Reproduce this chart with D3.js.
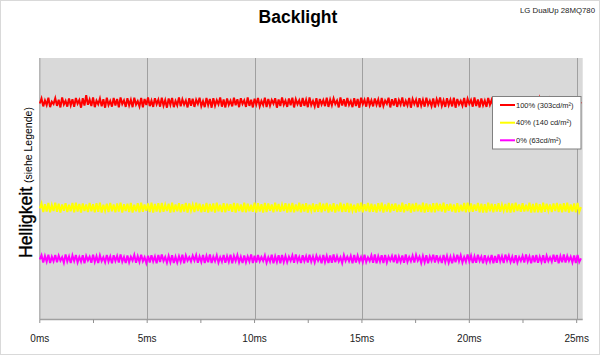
<!DOCTYPE html>
<html>
<head>
<meta charset="utf-8">
<script src="https://cdn.jsdelivr.net/npm/d3@7"></script>
<style>
  html, body { margin: 0; padding: 0; background: #fff; }
  svg { display: block; font-family: "Liberation Sans", Arial, sans-serif; }
</style>
</head>
<body>
<svg id="chart" width="600" height="356"></svg>
<script>
// ---- data ----
const chartTitle = "Backlight";
const chartSubtitle = "LG DualUp 28MQ780";
const yLabelMain = "Helligkeit";
const yLabelSub = "(siehe Legende)";
const xTickValues = [0, 5, 10, 15, 20, 25];
const xTickLabels = ["0ms", "5ms", "10ms", "15ms", "20ms", "25ms"];
const xMinorTicks = [0, 2.5, 5, 7.5, 10, 12.5, 15, 17.5, 20, 22.5, 25];
const sampleStepMs = 0.08;
const seriesNames = ["100% (303cd/m\u00B2)", "40% (140 cd/m\u00B2)", "0% (63cd/m\u00B2)"];
const seriesColors = ["#ff0000", "#ffff00", "#ff00ff"];

// relative brightness (0..1000), one sample every 0.08 ms
const brightness100 = [
826,845,815,838,820,848,812,833,824,846,
817,840,811,849,822,836,814,845,819,842,
813,847,825,839,810,846,818,858,821,841,
816,849,812,837,823,845,815,842,810,848,
820,836,814,847,818,843,811,849,824,838,
813,846,819,840,812,848,822,835,815,847,
811,843,820,849,816,837,813,846,823,841,
814,848,818,839,810,845,821,847,812,836,
819,849,815,842,822,838,811,846,817,844,
813,840,824,848,816,835,812,847,820,843,
810,846,818,839,823,849,814,841,811,845,
821,837,815,848,819,842,812,846,824,838,
813,849,817,840,811,844,822,847,815,836,
820,848,812,843,818,839,825,846,810,841,
816,849,821,837,813,845,819,848,811,842,
823,838,814,847,817,840,812,849,820,836,
815,846,810,843,822,839,816,848,813,841,
819,845,824,837,811,849,818,842,814,847,
821,836,812,846,816,843,810,848,823,840,
814,849,819,838,815,845,821,841,812,847,
817,837,825,848,811,842,818,846,813,839,
822,849,815,836,819,847,810,843,824,841,
812,846,818,840,814,848,821,837,816,845,
811,842,823,849,817,838,813,846,820,840,
815,848,810,843,822,836,818,847,812,844,
824,839,814,849,816,841,811,845,819,837,
813,847,821,840,815,848,817,836,823,846,
810,843,818,849,812,838,820,845,814,841,
822,837,816,847,811,844,819,848,813,839,
817,846,824,840,815,849,812,842,821,836,
814,848,819,843,810,845,823,838,816,847,
812,841,820,846,818,832
];

const brightness40 = [
425,444,411,441,413,446,410,438,415,447,
412,443,409,440,416,445,411,439,414,446,
410,447,413,442,409,444,415,440,411,446,
414,441,410,445,412,447,409,439,416,443,
411,446,414,440,410,444,413,447,409,441,
415,443,411,446,409,439,414,445,410,447,
412,440,416,444,411,447,409,442,413,445,
410,446,412,439,415,443,409,447,411,440,
414,445,410,441,413,446,409,444,416,439,
411,447,415,443,410,440,412,446,409,442,
413,444,409,447,414,439,411,445,410,443,
416,441,412,446,409,444,415,440,411,447,
410,443,414,439,412,447,409,445,413,441,
409,446,411,444,416,440,410,447,414,442,
412,439,415,445,409,443,411,446,410,440,
414,447,410,442,413,445,409,439,416,444,
411,441,412,447,410,443,415,446,409,440,
413,445,409,440,414,447,411,442,412,446,
410,443,416,439,409,444,413,447,410,441,
415,446,411,443,412,440,409,445,414,447,
409,440,413,446,410,442,416,444,411,439,
412,447,410,441,415,445,409,443,413,446,
414,439,411,447,409,444,412,440,410,445,
410,446,415,442,413,447,409,441,416,443,
413,440,409,445,411,439,414,446,410,447,
411,444,412,440,416,446,410,443,409,441,
409,447,414,443,410,441,413,445,412,439,
416,442,410,446,409,444,411,447,415,440,
412,445,413,439,414,447,409,442,410,446,
410,441,409,447,412,443,416,440,411,444,
415,446,411,442,410,445,413,447,409,440,
413,444,410,446,412,430
];

const brightness0 = [
230,246,218,243,221,248,216,240,223,247,
219,244,225,238,217,249,222,241,216,245,
224,247,218,239,221,246,215,243,226,240,
217,248,220,242,216,245,223,238,219,247,
222,241,215,246,224,243,218,249,221,239,
216,245,219,240,225,247,217,242,220,248,
223,238,216,244,218,246,222,241,215,247,
220,249,224,239,217,243,219,246,216,240,
218,242,221,248,215,245,225,238,222,244,
225,246,217,241,220,247,216,243,219,249,
216,240,223,245,218,238,221,247,217,242,
221,248,215,243,224,246,219,240,216,245,
219,241,222,249,216,244,218,247,223,239,
224,245,217,238,221,248,215,242,220,246,
215,247,220,243,219,240,224,245,217,249,
222,239,216,246,223,242,218,248,221,241,
218,244,225,240,215,247,220,243,216,245,
217,249,219,242,222,238,216,246,224,240,
223,243,215,247,218,244,221,239,219,248,
220,238,224,245,217,249,215,242,222,246,
216,247,218,240,225,243,219,248,215,241,
221,245,217,249,220,239,223,244,218,247,
225,240,216,243,219,246,215,241,224,248,
218,246,222,238,216,247,220,243,217,240,
215,242,219,248,223,245,218,239,221,249,
222,244,216,241,217,248,224,240,215,246,
219,238,221,247,215,243,217,249,222,242,
216,248,225,244,220,240,216,246,218,239,
224,243,218,249,222,241,215,245,219,247,
217,240,220,246,216,244,223,238,221,248,
221,247,215,242,219,249,218,243,224,240,
218,245,216,247,220,234
];

const seriesValues = [brightness100, brightness40, brightness0];

// ---- layout ----
const svg = d3.select("#chart");
const plot = { left: 39.8, right: 582.7, top: 58, bottom: 319.5 };

const x = d3.scaleLinear().domain([0, 25.28]).range([plot.left, plot.right]);
const y = d3.scaleLinear().domain([0, 1000]).range([plot.bottom, plot.top]);

// outer frame
svg.append("rect")
  .attr("x", 0.5).attr("y", 0.5).attr("width", 599).attr("height", 354)
  .attr("fill", "#ffffff").attr("stroke", "#d9d9d9").attr("stroke-width", 1);

// plot background
svg.append("rect")
  .attr("x", plot.left).attr("y", plot.top)
  .attr("width", plot.right - plot.left).attr("height", plot.bottom - plot.top)
  .attr("fill", "#d9d9d9");

// vertical gridlines
svg.append("g").selectAll("line")
  .data(xTickValues.filter(v => v > 0))
  .join("line")
  .attr("x1", d => Math.round(x(d)) + 0.5).attr("x2", d => Math.round(x(d)) + 0.5)
  .attr("y1", plot.top).attr("y2", plot.bottom)
  .attr("stroke", "#a0a0a0").attr("stroke-width", 1);

// y axis line (left edge)
svg.append("line")
  .attr("x1", plot.left).attr("x2", plot.left)
  .attr("y1", plot.top).attr("y2", plot.bottom)
  .attr("stroke", "#a6a6a6").attr("stroke-width", 1.2);

// series lines
const line = d3.line()
  .x((d, i) => x(i * sampleStepMs))
  .y(d => y(d));

svg.append("g").selectAll("path")
  .data(seriesValues)
  .join("path")
  .attr("d", d => line(d))
  .attr("fill", "none")
  .attr("stroke", (d, i) => seriesColors[i])
  .attr("stroke-width", 2)
  .attr("stroke-linejoin", "miter");

// x axis
const xAxisG = svg.append("g").attr("transform", `translate(0,${plot.bottom})`);
xAxisG.append("line")
  .attr("x1", plot.left).attr("x2", plot.right)
  .attr("y1", 0).attr("y2", 0)
  .attr("stroke", "#a0a0a0").attr("stroke-width", 1.5);
xAxisG.selectAll("line.tick")
  .data(xMinorTicks)
  .join("line").attr("class", "tick")
  .attr("x1", d => x(d)).attr("x2", d => x(d))
  .attr("y1", 0).attr("y2", 3.5)
  .attr("stroke", "#909090").attr("stroke-width", 1);
xAxisG.selectAll("text")
  .data(xTickValues)
  .join("text")
  .attr("x", d => x(d))
  .attr("y", 22)
  .attr("text-anchor", "middle")
  .attr("font-size", "10px")
  .attr("fill", "#222")
  .text((d, i) => xTickLabels[i]);

// titles
svg.append("text")
  .attr("x", 298).attr("y", 22.5)
  .attr("text-anchor", "middle")
  .attr("font-size", "17.5px").attr("font-weight", "bold")
  .attr("fill", "#000")
  .text(chartTitle);

svg.append("text")
  .attr("x", 595).attr("y", 12.5)
  .attr("text-anchor", "end")
  .attr("font-size", "7.8px")
  .attr("fill", "#222")
  .text(chartSubtitle);

// y label
const yl = svg.append("text")
  .attr("transform", "translate(31.5,258) rotate(-90)")
  .attr("text-anchor", "start")
  .attr("fill", "#000");
yl.append("tspan").attr("font-size", "17.5px")
  .attr("stroke", "#000").attr("stroke-width", 0.35)
  .text(yLabelMain);
yl.append("tspan").attr("font-size", "10.5px").attr("dx", 4).text(yLabelSub);

// legend
const legend = svg.append("g");
legend.append("rect")
  .attr("x", 492.5).attr("y", 96.5).attr("width", 88.5).attr("height", 52.5)
  .attr("fill", "#ffffff").attr("stroke", "#808080").attr("stroke-width", 1);
const legendRowY = [105, 122.7, 140.3];
seriesNames.forEach((name, i) => {
  legend.append("line")
    .attr("x1", 500).attr("x2", 515)
    .attr("y1", legendRowY[i]).attr("y2", legendRowY[i])
    .attr("stroke", seriesColors[i]).attr("stroke-width", 2);
  legend.append("text")
    .attr("x", 516).attr("y", legendRowY[i] + 2.7)
    .attr("font-size", "7.5px").attr("fill", "#222")
    .text(name);
});
</script>
</body>
</html>
